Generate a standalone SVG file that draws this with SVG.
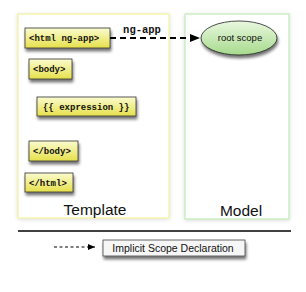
<svg xmlns="http://www.w3.org/2000/svg" width="306" height="292" viewBox="0 0 306 292">
<defs>
<linearGradient id="yg" x1="0" y1="0" x2="0" y2="1">
<stop offset="0" stop-color="#fbfbd0"/>
<stop offset="1" stop-color="#e6e04a"/>
</linearGradient>
<linearGradient id="gg" x1="0" y1="0" x2="0" y2="1">
<stop offset="0" stop-color="#eaf8e0"/>
<stop offset="1" stop-color="#a6da8c"/>
</linearGradient>
<filter id="sh" x="-30%" y="-30%" width="160%" height="180%">
<feGaussianBlur in="SourceAlpha" stdDeviation="1.5"/>
<feOffset dx="1" dy="3" result="b"/>
<feComponentTransfer><feFuncA type="linear" slope="0.55"/></feComponentTransfer>
<feMerge><feMergeNode/><feMergeNode in="SourceGraphic"/></feMerge>
</filter>
<filter id="psh" x="-10%" y="-10%" width="120%" height="120%">
<feGaussianBlur in="SourceAlpha" stdDeviation="2"/>
<feOffset dx="0" dy="1"/>
<feComponentTransfer><feFuncA type="linear" slope="0.15"/></feComponentTransfer>
<feMerge><feMergeNode/><feMergeNode in="SourceGraphic"/></feMerge>
</filter>
<marker id="ah" markerWidth="10" markerHeight="8" refX="10" refY="4" orient="auto" markerUnits="userSpaceOnUse">
<path d="M0,0 L10,4 L0,8 Z" fill="#000"/>
</marker>
<marker id="ahs" markerWidth="7" markerHeight="6" refX="7" refY="3" orient="auto" markerUnits="userSpaceOnUse">
<path d="M0,0 L7,3 L0,6 Z" fill="#000"/>
</marker>
</defs>
<style>
.tag rect{fill:url(#yg);stroke:#333;stroke-width:0.8;filter:url(#sh)}
.tag text{font-family:"Liberation Mono","Courier New",monospace;font-weight:bold;font-size:9px;fill:#111}
.lbl{font-family:"Liberation Sans",Arial,sans-serif;fill:#111}
</style>
<rect width="306" height="292" fill="#fff"/>
<g id="template">
<rect x="18" y="14" width="151" height="204" fill="#fff" stroke="#f2f08a" stroke-width="1" filter="url(#psh)"/>
<text class="lbl" x="95" y="215" font-size="15.5" text-anchor="middle">Template</text>
</g>
<g id="model">
<rect x="185" y="14" width="104" height="205" fill="#fff" stroke="#b4e8a6" stroke-width="1" filter="url(#psh)"/>
<text class="lbl" x="241" y="216" font-size="15.5" text-anchor="middle">Model</text>
</g>
<g id="html" class="tag">
<rect x="25" y="28" width="85" height="20"/>
<text x="29" y="41">&lt;html ng-app&gt;</text>
</g>
<g id="body" class="tag">
<rect x="29" y="59" width="43" height="20"/>
<text x="33" y="72">&lt;body&gt;</text>
</g>
<g id="expression" class="tag">
<rect x="37" y="97" width="99" height="19"/>
<text x="43" y="110">{{ expression }}</text>
</g>
<g id="body-close" class="tag">
<rect x="29" y="141" width="49" height="20"/>
<text x="33" y="154">&lt;/body&gt;</text>
</g>
<g id="html-close" class="tag">
<rect x="25" y="173" width="48" height="19"/>
<text x="29" y="186">&lt;/html&gt;</text>
</g>
<g id="root-scope">
<ellipse cx="239" cy="38" rx="38" ry="17" fill="url(#gg)" stroke="#222" stroke-width="0.8" filter="url(#sh)"/>
<text class="lbl" x="240" y="41" font-size="9.5" text-anchor="middle">root scope</text>
</g>
<g id="connectors">
<line x1="110" y1="38" x2="200" y2="38" stroke="#000" stroke-width="1.8" stroke-dasharray="6,4" marker-end="url(#ah)"/>
<text x="142" y="33" font-family="'Liberation Mono','Courier New',monospace" font-weight="bold" font-size="10.5" text-anchor="middle" fill="#111">ng-app</text>
</g>
<line x1="18" y1="231" x2="291" y2="231" stroke="#000" stroke-width="1.3"/>
<g id="legend">
<line x1="54" y1="247" x2="95" y2="247" stroke="#000" stroke-width="1" stroke-dasharray="3,2.5" marker-end="url(#ahs)"/>
<rect x="103" y="240" width="142" height="16" fill="#f6f6f6" stroke="#444" stroke-width="0.8" filter="url(#sh)"/>
<text class="lbl" x="173" y="252" font-size="10.5" text-anchor="middle">Implicit Scope Declaration</text>
</g>
</svg>
